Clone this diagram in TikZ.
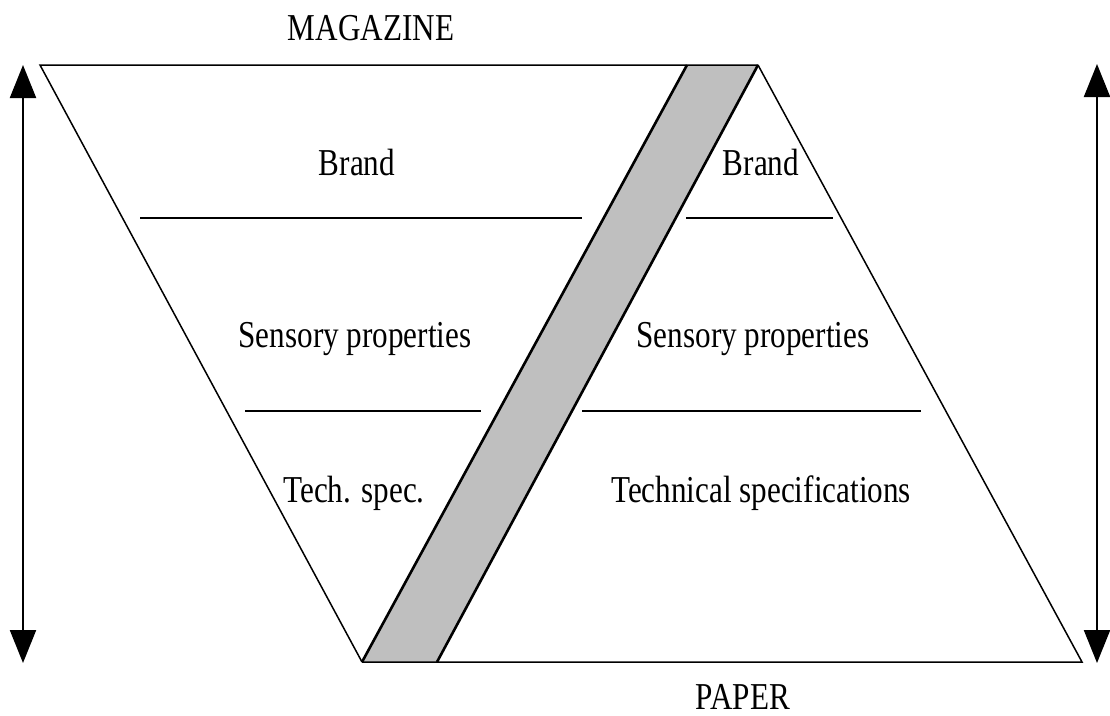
\documentclass[tikz,border=0pt]{standalone}
\usepackage{fontspec}
\setmainfont{Liberation Serif}
\usetikzlibrary{arrows.meta}
\newcommand{\cond}[1]{\scalebox{0.82}[1]{#1}}
\tikzset{
  lbl/.style={anchor=base, inner sep=0pt, font=\fontsize{38}{40}\selectfont},
  edge/.style={line width=1.5pt, line join=miter},
  divider/.style={line width=2.2pt},
  band/.style={fill=black!25, draw=none},
  bandside/.style={line width=2.6pt},
  dblarrow/.style={line width=2.2pt, {Triangle[length=33pt,width=26pt]}-{Triangle[length=33pt,width=26pt]}}
}
\begin{document}
\begin{tikzpicture}[x=1pt,y=-1pt]
\useasboundingbox (0,0) rectangle (1110,715);
% corner coordinates
\coordinate (TL) at (40,65);
\coordinate (GT1) at (687,65);
\coordinate (GT2) at (758,65);
\coordinate (GB1) at (362,662);
\coordinate (GB2) at (437,662);
\coordinate (BR) at (1082,662);
% grey band
\fill[band] (GT1) -- (GT2) -- (GB2) -- (GB1) -- cycle;
\draw[bandside] (GT1) -- (GB1);
\draw[bandside] (GT2) -- (GB2);
% left inverted triangle
\draw[edge] (GB1) -- (TL) -- (GT2);
% right triangle
\draw[edge] (GT2) -- (BR) -- (GB1);
% dividers
\coordinate (l1a) at (140,218); \coordinate (l1b) at (582,218);
\coordinate (l2a) at (245,411); \coordinate (l2b) at (481,411);
\coordinate (r1a) at (686,218); \coordinate (r1b) at (833,218);
\coordinate (r2a) at (582,411); \coordinate (r2b) at (921,411);
\draw[divider] (l1a) -- (l1b);
\draw[divider] (l2a) -- (l2b);
\draw[divider] (r1a) -- (r1b);
\draw[divider] (r2a) -- (r2b);
% arrows
\coordinate (la1) at (23,65); \coordinate (la2) at (23,663);
\coordinate (ra1) at (1097,64); \coordinate (ra2) at (1097,663);
\draw[dblarrow] (la1) -- (la2);
\draw[dblarrow] (ra1) -- (ra2);
% labels
\node[lbl] (mag) at (371,40) {\cond{MAGAZINE}};
\node[lbl] (pap) at (743,709) {\cond{PAPER}};
\node[lbl] (lb) at (357,175) {\cond{Brand}};
\node[lbl] (ls) at (355,347) {\cond{Sensory properties}};
\node[lbl] (lt) at (354,502) {\cond{Tech. spec.}};
\node[lbl] (rb) at (761,175) {\cond{Brand}};
\node[lbl] (rs) at (753,347) {\cond{Sensory properties}};
\node[lbl] (rt) at (761,502) {\cond{Technical specifications}};
\end{tikzpicture}
\end{document}
